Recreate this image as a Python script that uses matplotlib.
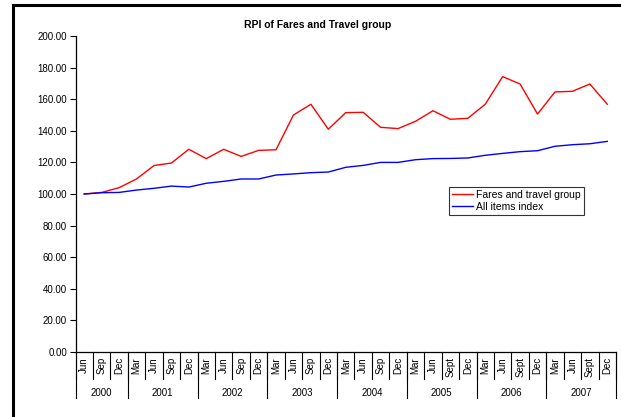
import matplotlib.pyplot as plt
import numpy as np

plt.rcParams['font.family'] = ['Liberation Sans', 'DejaVu Sans']

# quarterly RPI index, Jun 2000 = 100
years = ['2000', '2001', '2002', '2003', '2004', '2005', '2006', '2007']
months = ['Jun', 'Sep', 'Dec',
          'Mar', 'Jun', 'Sep', 'Dec',
          'Mar', 'Jun', 'Sep', 'Dec',
          'Mar', 'Jun', 'Sep', 'Dec',
          'Mar', 'Jun', 'Sep', 'Dec',
          'Mar', 'Jun', 'Sept', 'Dec',
          'Mar', 'Jun', 'Sept', 'Dec',
          'Mar', 'Jun', 'Sept', 'Dec']
per_year = [3, 4, 4, 4, 4, 4, 4, 4]

fares = [100.0, 101.0, 104.0, 109.5, 118.0, 119.6, 128.3,
         122.4, 128.3, 123.8, 127.6, 128.0, 150.0, 156.8, 141.0,
         151.5, 151.7, 142.2, 141.4, 146.0, 152.7, 147.3, 147.9,
         156.8, 174.3, 169.6, 150.6, 164.6, 165.0, 169.6, 156.8]
all_items = [100.0, 100.8, 101.0, 102.5, 103.6, 105.0, 104.4,
             106.8, 108.0, 109.5, 109.5, 112.0, 112.7, 113.5, 113.9,
             116.9, 118.1, 120.0, 120.0, 121.7, 122.4, 122.5, 122.8,
             124.5, 125.7, 126.8, 127.4, 130.2, 131.2, 131.8, 133.3]

W, H = 621, 417
fig = plt.figure(figsize=(W / 100, H / 100), dpi=100)
ax = fig.add_axes([75.5 / W, (H - 352) / H, (616 - 75.5) / W, (352 - 36) / H])

x = np.arange(len(months))
ax.plot(x, fares, color='#ff0000', lw=1.0, label='Fares and travel group')
ax.plot(x, all_items, color='#0000ff', lw=1.0, label='All items index')

ax.set_xlim(-0.5, len(months) - 0.5)
ax.set_ylim(0, 200)
ax.set_yticks(np.arange(0, 201, 20))
ax.set_yticklabels(['%.2f' % v for v in np.arange(0, 201, 20)], fontsize=7)
ax.tick_params(axis='y', direction='out', length=4, width=0.8, pad=2)
ax.set_xticks([])
for s in ['top', 'right']:
    ax.spines[s].set_visible(False)
for s in ['left', 'bottom']:
    ax.spines[s].set_linewidth(0.9)

# two-level category axis: months then years
trans = ax.get_xaxis_transform()
ah = 352 - 36
for i, m in enumerate(months):
    ax.text(i, -5 / ah, m, transform=trans, rotation=90, ha='center', va='top',
            fontsize=7)
for k in range(len(months) + 1):
    ax.plot([k - 0.5, k - 0.5], [0, -27 / ah], transform=trans, color='black',
            lw=0.8, clip_on=False)
edges = np.concatenate([[0], np.cumsum(per_year)]) - 0.5
for e in edges:
    ax.plot([e, e], [0, -46 / ah], transform=trans, color='black', lw=0.8,
            clip_on=False)
for y, a, b in zip(years, edges[:-1], edges[1:]):
    ax.text((a + b) / 2, -41 / ah, y, transform=trans, ha='center', va='center',
            fontsize=7)

leg = ax.legend(loc='upper left', bbox_to_anchor=((449 - 75.5) / (616 - 75.5), (352 - 187) / ah),
                fontsize=7.5, frameon=True, fancybox=False, borderpad=0.3,
                handlelength=2.0, handletextpad=0.3, labelspacing=0.15,
                borderaxespad=0)
leg.get_frame().set_edgecolor('black')
leg.get_frame().set_linewidth(0.8)

fig.text(318 / W, 1 - 25 / H, 'RPI of Fares and Travel group', ha='center',
         va='center', fontsize=7.5, fontweight='bold')

# outer border (left and top)
fig.add_artist(plt.Line2D([13 / W, 13 / W], [0, 1 - 5 / H], color='black', lw=2.2,
                          transform=fig.transFigure, solid_capstyle='projecting'))
fig.add_artist(plt.Line2D([13 / W, 1], [1 - 5 / H, 1 - 5 / H], color='black', lw=2.2,
                          transform=fig.transFigure, solid_capstyle='projecting'))

fig.savefig('out.png', dpi=100)
